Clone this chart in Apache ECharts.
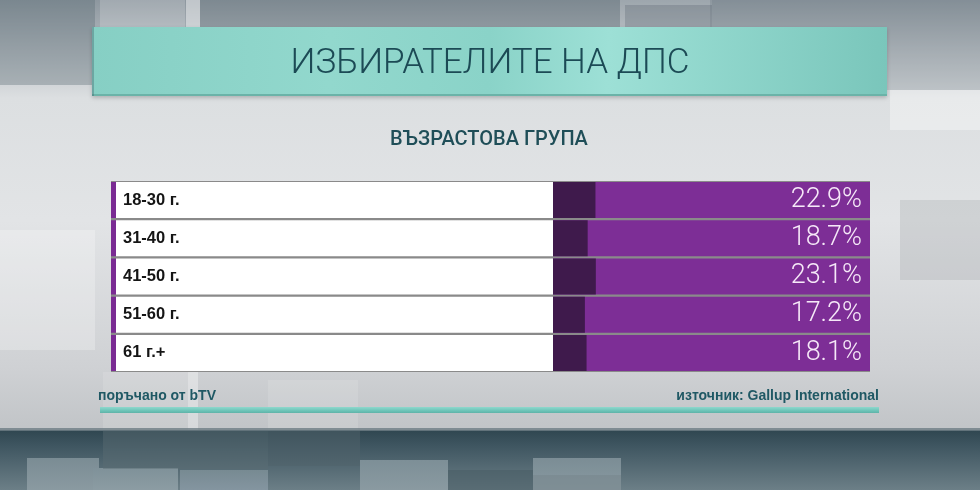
<!DOCTYPE html>
<html>
<head>
<meta charset="utf-8">
<script src="https://cdn.jsdelivr.net/npm/echarts@6/dist/echarts.min.js"></script>
<style>
html,body{margin:0;padding:0;background:#d4d7da;}
#c{width:980px;height:490px;}
</style>
</head>
<body>
<div id="c"></div>
<script>
// ---- data ----
const categories = ['18-30 г.', '31-40 г.', '41-50 г.', '51-60 г.', '61 г.+'];
const values = [22.9, 18.7, 23.1, 17.2, 18.1];
const titleText = 'ИЗБИРАТЕЛИТЕ НА ДПС';
const subtitleText = 'ВЪЗРАСТОВА ГРУПА';
const footLeft = 'поръчано от bTV';
const footRight = 'източник: Gallup International';
const axisMax = 171;

const chart = echarts.init(document.getElementById('c'), null, {renderer: 'canvas'});

const lin = (x2, y2, stops) => new echarts.graphic.LinearGradient(0, 0, x2, y2, stops);

const bg = [
  // base
  {type: 'rect', shape: {x: 0, y: 0, width: 980, height: 490}, z: -20,
   style: {fill: lin(0, 1, [
     {offset: 0, color: '#8d979f'}, {offset: 0.1, color: '#b6bcc1'},
     {offset: 0.2, color: '#dcdfe1'}, {offset: 0.45, color: '#e2e4e6'},
     {offset: 0.75, color: '#cfd1d4'}, {offset: 0.87, color: '#c2c5c8'}, {offset: 1, color: '#b5b9bc'}])}},
  // top blocks
  {type: 'rect', shape: {x: 0, y: 0, width: 95, height: 85}, z: -19, style: {fill: 'rgba(90,105,115,0.35)'}},
  {type: 'rect', shape: {x: 100, y: 0, width: 85, height: 60}, z: -19, style: {fill: 'rgba(255,255,255,0.18)'}},
  {type: 'rect', shape: {x: 186, y: 0, width: 14, height: 50}, z: -19, style: {fill: 'rgba(255,255,255,0.45)'}},
  {type: 'rect', shape: {x: 200, y: 0, width: 420, height: 30}, z: -19, style: {fill: 'rgba(80,95,105,0.25)'}},
  {type: 'rect', shape: {x: 620, y: 0, width: 90, height: 45}, z: -19, style: {fill: 'rgba(255,255,255,0.15)'}},
  {type: 'rect', shape: {x: 625, y: 5, width: 87, height: 40}, z: -19, style: {fill: 'rgba(70,85,95,0.25)'}},
  {type: 'rect', shape: {x: 712, y: 0, width: 268, height: 90}, z: -19, style: {fill: 'rgba(100,112,122,0.22)'}},
  {type: 'rect', shape: {x: 890, y: 90, width: 90, height: 40}, z: -19, style: {fill: 'rgba(255,255,255,0.35)'}},
  {type: 'rect', shape: {x: 900, y: 200, width: 80, height: 80}, z: -19, style: {fill: 'rgba(150,155,160,0.25)'}},
  {type: 'rect', shape: {x: 0, y: 230, width: 95, height: 120}, z: -19, style: {fill: 'rgba(255,255,255,0.25)'}},
  // lower light verticals
  {type: 'rect', shape: {x: 103, y: 372, width: 85, height: 60}, z: -19, style: {fill: 'rgba(255,255,255,0.12)'}},
  {type: 'rect', shape: {x: 188, y: 372, width: 10, height: 60}, z: -19, style: {fill: 'rgba(255,255,255,0.35)'}},
  {type: 'rect', shape: {x: 268, y: 380, width: 90, height: 52}, z: -19, style: {fill: 'rgba(255,255,255,0.12)'}},
  // dark bottom band
  {type: 'rect', shape: {x: 0, y: 430, width: 980, height: 60}, z: -18,
   style: {fill: lin(0, 1, [{offset: 0, color: '#2f4650'}, {offset: 0.25, color: '#3e5560'}, {offset: 1, color: '#6c7f87'}])}},
  {type: 'rect', shape: {x: 0, y: 428, width: 980, height: 3}, z: -18, style: {fill: 'rgba(110,125,132,0.8)'}},
  // cubes in bottom band
  {type: 'rect', shape: {x: 27, y: 458, width: 72, height: 32}, z: -17, style: {fill: lin(0, 1, [{offset: 0, color: '#7a8c94'}, {offset: 1, color: '#8a9aa1'}])}},
  {type: 'rect', shape: {x: 93, y: 468, width: 85, height: 22}, z: -17, style: {fill: lin(0, 1, [{offset: 0, color: '#7f9199'}, {offset: 1, color: '#8c9ca3'}])}},
  {type: 'rect', shape: {x: 180, y: 470, width: 88, height: 20}, z: -17, style: {fill: lin(0, 1, [{offset: 0, color: '#778a92'}, {offset: 1, color: '#8495a0'}])}},
  {type: 'rect', shape: {x: 103, y: 431, width: 165, height: 38}, z: -17, style: {fill: 'rgba(90,108,116,0.45)'}},
  {type: 'rect', shape: {x: 268, y: 431, width: 92, height: 35}, z: -17, style: {fill: 'rgba(80,98,106,0.5)'}},
  {type: 'rect', shape: {x: 360, y: 460, width: 88, height: 30}, z: -17, style: {fill: lin(0, 1, [{offset: 0, color: '#7d8f97'}, {offset: 1, color: '#8a9aa1'}])}},
  {type: 'rect', shape: {x: 448, y: 470, width: 85, height: 20}, z: -17, style: {fill: 'rgba(70,90,98,0.5)'}},
  {type: 'rect', shape: {x: 533, y: 458, width: 88, height: 32}, z: -17, style: {fill: lin(0, 1, [{offset: 0, color: '#7b8d95'}, {offset: 1, color: '#899aa1'}])}},
  {type: 'rect', shape: {x: 533, y: 475, width: 88, height: 15}, z: -17, style: {fill: 'rgba(120,135,142,0.6)'}},
];

const deco = [
  // title box
  {type: 'rect', shape: {x: 92, y: 27, width: 795, height: 69}, z: 1,
   style: {fill: lin(1, 0.3, [
     {offset: 0, color: '#86cfc4'}, {offset: 0.3, color: '#92d8cd'},
     {offset: 0.5, color: '#8ad3c8'}, {offset: 0.65, color: '#9de0d6'},
     {offset: 1, color: '#7ac6bb'}]), shadowBlur: 4, shadowColor: 'rgba(0,0,0,0.2)', shadowOffsetY: 2}},
  {type: 'rect', shape: {x: 92, y: 94, width: 795, height: 2}, z: 2, style: {fill: '#6bb3a8'}},
  {type: 'rect', shape: {x: 92, y: 27, width: 2, height: 69}, z: 2, style: {fill: 'rgba(60,90,100,0.35)'}},
  // footer line
  {type: 'rect', shape: {x: 100, y: 407, width: 779, height: 6}, z: 1,
   style: {fill: lin(0, 1, [{offset: 0, color: '#8fd8cd'}, {offset: 0.5, color: '#72c8bc'}, {offset: 1, color: '#5eb3a8'}])}},
  // texts
  {type: 'text', z: 5, x: 490, y: 64,
   style: {text: titleText, fill: '#1c4a55', font: '300 35px Roboto', textAlign: 'center', textVerticalAlign: 'middle'}},
  {type: 'text', z: 5, x: 489, y: 140,
   style: {text: subtitleText, fill: '#1f4e58', font: '500 20px Roboto', textAlign: 'center', textVerticalAlign: 'middle'}},
  {type: 'text', z: 5, x: 98, y: 396,
   style: {text: footLeft, fill: '#1f5864', font: 'bold 14px "Liberation Sans Narrow", "Liberation Sans"', textAlign: 'left', textVerticalAlign: 'middle'}},
  {type: 'text', z: 5, x: 879, y: 396,
   style: {text: footRight, fill: '#1f5864', font: 'bold 14px "Liberation Sans Narrow", "Liberation Sans"', textAlign: 'right', textVerticalAlign: 'middle'}},
];

const option = {
  animation: false,
  backgroundColor: 'transparent',
  graphic: {elements: bg.concat(deco)},
  grid: [
    {left: 111, top: 181, width: 442, height: 191, show: true, backgroundColor: '#8a8a8a', borderWidth: 0, containLabel: false},
    {left: 553, top: 181, width: 317, height: 191, show: true, backgroundColor: '#8a8a8a', borderWidth: 0, containLabel: false}
  ],
  xAxis: [
    {type: 'value', gridIndex: 0, min: 0, max: 1, show: false},
    {type: 'value', gridIndex: 1, min: 0, max: axisMax, show: false}
  ],
  yAxis: [
    {type: 'category', gridIndex: 0, data: categories, inverse: true, z: 10,
     axisLine: {show: false}, axisTick: {show: false},
     axisLabel: {inside: true, margin: 12, fontFamily: 'Liberation Sans, Arial', fontWeight: 'bold', fontSize: 16.5, color: '#151515'}},
    {type: 'category', gridIndex: 1, data: categories, inverse: true, show: false}
  ],
  series: [
    {type: 'bar', xAxisIndex: 0, yAxisIndex: 0, barWidth: 36, silent: true,
     data: categories.map(() => 1),
     itemStyle: {color: new echarts.graphic.LinearGradient(0, 0, 1, 0, [
       {offset: 0, color: '#7a2b93'}, {offset: 0.0105, color: '#7a2b93'},
       {offset: 0.011, color: '#ffffff'}, {offset: 1, color: '#ffffff'}])}},
    {type: 'bar', xAxisIndex: 1, yAxisIndex: 1, barWidth: 36, barGap: '-100%', silent: true,
     data: categories.map(() => axisMax),
     itemStyle: {color: '#7d2e96'},
     label: {show: true, position: 'insideRight', distance: 8,
       formatter: p => values[p.dataIndex].toFixed(1) + '%',
       fontFamily: 'Roboto', fontWeight: 300, fontSize: 27, color: '#f6e9f8'}},
    {type: 'bar', xAxisIndex: 1, yAxisIndex: 1, barWidth: 36, barGap: '-100%', silent: true,
     data: values,
     itemStyle: {color: '#3f1a4c'}}
  ]
};
chart.setOption(option);
</script>
</body>
</html>
